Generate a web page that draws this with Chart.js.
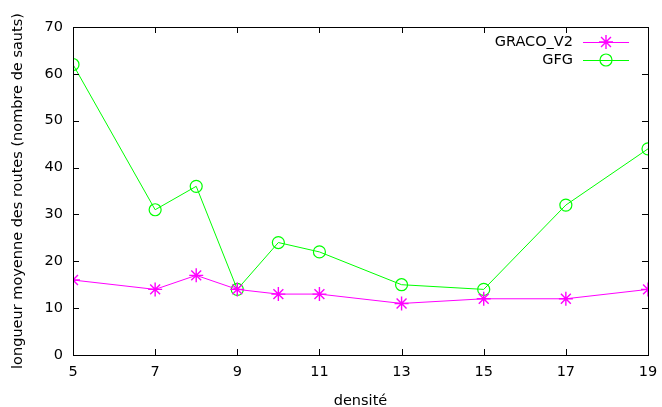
<!DOCTYPE html>
<html><head><meta charset="utf-8">
<script src="https://cdn.jsdelivr.net/npm/chart.js@4"></script>
<style>html,body{margin:0;padding:0;background:#fff}#wrap{width:662px;height:407px}</style>
</head><body><div id="wrap"><canvas id="c"></canvas></div>
<script>
const densities = [5, 7, 8, 9, 10, 11, 13, 15, 17, 19];
const gracoV2 = [16, 14, 17, 14, 13, 13, 11, 12, 12, 14];
const gfg = [62, 31, 36, 14, 24, 22, 15, 14, 32, 44];
const xTicks = [5, 7, 9, 11, 13, 15, 17, 19];
const yTicks = [0, 10, 20, 30, 40, 50, 60, 70];
const seriesNames = ['GRACO_V2', 'GFG'];

const FONT = 'DejaVu Sans';
const FS = 14.5;

const framePlugin = {
  id: 'frame',
  afterDatasetsDraw(chart) {
    const {ctx, chartArea: a, scales} = chart;
    ctx.save();
    ctx.strokeStyle = '#000';
    ctx.lineWidth = 1;
    const L = 6;
    ctx.beginPath();
    xTicks.forEach(v => {
      const x = Math.round(scales.x.getPixelForValue(v)) + 0.5;
      ctx.moveTo(x, a.bottom); ctx.lineTo(x, a.bottom - L);
      ctx.moveTo(x, a.top); ctx.lineTo(x, a.top + L);
    });
    yTicks.forEach(v => {
      const y = Math.round(scales.y.getPixelForValue(v)) + 0.5;
      ctx.moveTo(a.left, y); ctx.lineTo(a.left + L, y);
      ctx.moveTo(a.right, y); ctx.lineTo(a.right - L, y);
    });
    ctx.stroke();
    ctx.strokeRect(Math.round(a.left) + 0.5, Math.round(a.top) + 0.5, Math.round(a.right - a.left), Math.round(a.bottom - a.top));
    // legend
    ctx.font = FS + 'px ' + FONT;
    ctx.textAlign = 'right';
    ctx.textBaseline = 'middle';
    chart.data.datasets.forEach((ds, i) => {
      const y = a.top + 15 + i * 18;
      ctx.fillStyle = '#000';
      ctx.fillText(ds.label, a.right - 75, y);
      ctx.strokeStyle = ds.borderColor;
      ctx.fillStyle = 'rgba(0,0,0,0)';
      ctx.lineWidth = 1;
      ctx.beginPath();
      ctx.moveTo(a.right - 65, y + 0.5); ctx.lineTo(a.right - 19, y + 0.5);
      ctx.stroke();
      ctx.lineWidth = ds.pointBorderWidth;
      Chart.helpers.drawPoint(ctx, {pointStyle: ds.pointStyle, radius: ds.pointRadius, rotation: 0, borderWidth: ds.pointBorderWidth}, a.right - 42, y);
    });
    ctx.restore();
  }
};

new Chart(document.getElementById('c'), {
  type: 'line',
  data: {
    datasets: [
      {label: seriesNames[0], data: densities.map((d, i) => ({x: d, y: gracoV2[i]})),
       borderColor: '#ff00ff', backgroundColor: 'rgba(0,0,0,0)', pointBorderColor: '#ff00ff',
       borderWidth: 1, pointStyle: 'star', pointRadius: 7, pointBorderWidth: 1.4, tension: 0},
      {label: seriesNames[1], data: densities.map((d, i) => ({x: d, y: gfg[i]})),
       borderColor: '#00ff00', backgroundColor: 'rgba(0,0,0,0)', pointBorderColor: '#00ff00',
       borderWidth: 1, pointStyle: 'circle', pointRadius: 6, pointBorderWidth: 1.2, tension: 0}
    ]
  },
  options: {
    responsive: true, maintainAspectRatio: false, animation: false,
    layout: {padding: {top: 27, right: 14, left: 0, bottom: 0}},
    plugins: {legend: {display: false}, tooltip: {enabled: false}},
    scales: {
      x: {type: 'linear', min: 5, max: 19,
        afterBuildTicks: s => { s.ticks = xTicks.map(v => ({value: v})); },
        afterFit: s => { s.height = 52; s.paddingLeft = 0; s.paddingRight = 0; },
        grid: {display: false, drawTicks: false}, border: {display: false},
        ticks: {color: '#000', font: {family: FONT, size: FS}, padding: 9, maxRotation: 0},
        title: {display: true, text: 'densité', color: '#000', font: {family: FONT, size: FS}, padding: {top: 4, bottom: -3}}
      },
      y: {min: 0, max: 70,
        afterBuildTicks: s => { s.ticks = yTicks.map(v => ({value: v})); },
        afterFit: s => { s.width = 73; s.paddingTop = 0; s.paddingBottom = 0; },
        grid: {display: false, drawTicks: false}, border: {display: false},
        ticks: {color: '#000', font: {family: FONT, size: FS}, padding: 10},
        title: {display: true, text: 'longueur moyenne des routes (nombre de sauts)', color: '#000', font: {family: FONT, size: FS}, padding: {top: 10, bottom: 4}}
      }
    }
  },
  plugins: [framePlugin]
});
</script></body></html>
